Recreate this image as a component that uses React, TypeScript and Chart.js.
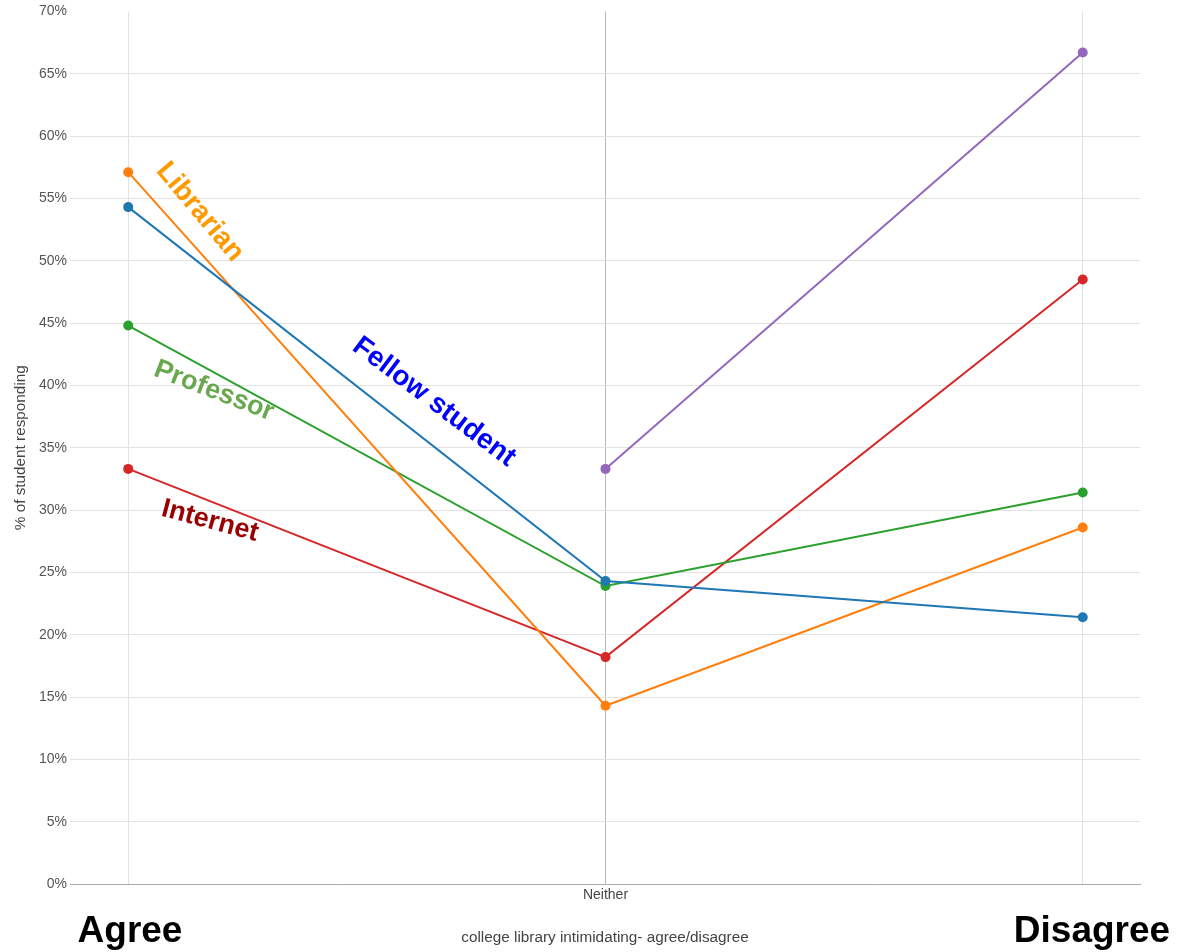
import React, { useEffect, useRef } from "react";
import { Chart, registerables } from "chart.js";

Chart.register(...registerables);

const categories = ["Agree", "Neither", "Disagree"];
const categoryPositions = [0, 1, 2];
const fellowStudent = [54.3, 24.3, 21.4];
const librarian = [57.1, 14.3, 28.6];
const professor = [44.8, 23.9, 31.4];
const internet = [33.3, 18.2, 48.5];
const other = [null, 33.3, 66.7];
const yTicks = [0, 5, 10, 15, 20, 25, 30, 35, 40, 45, 50, 55, 60, 65, 70];

const seriesDefs = [
  { label: "Fellow student", values: fellowStudent, color: "#1f77b4" },
  { label: "Librarian", values: librarian, color: "#ff7f0e" },
  { label: "Professor", values: professor, color: "#2ca02c" },
  { label: "Internet", values: internet, color: "#d62728" },
  { label: "Other", values: other, color: "#9467bd" },
];

const annotations = [
  { text: "Librarian", x: 200, y: 212, angle: 50, size: 28, color: "#FF9900" },
  { text: "Fellow student", x: 434, y: 402, angle: 37, size: 28, color: "#0000FF" },
  { text: "Professor", x: 214, y: 391, angle: 21, size: 27, color: "#6AA84F" },
  { text: "Internet", x: 210, y: 521, angle: 15, size: 27, color: "#990000" },
  { text: "Agree", x: 130, y: 932, angle: 0, size: 37, color: "#000000" },
  { text: "Disagree", x: 1092, y: 932, angle: 0, size: 37, color: "#000000" },
];

const FONT = "'Liberation Sans', Arial, Helvetica, sans-serif";

const annotationPlugin = {
  id: "textAnnotations",
  afterDraw(chart: any) {
    const ctx = chart.ctx;
    annotations.forEach((a) => {
      ctx.save();
      ctx.translate(a.x, a.y);
      ctx.rotate((a.angle * Math.PI) / 180);
      ctx.font = `bold ${a.size}px ${FONT}`;
      ctx.fillStyle = a.color;
      ctx.textAlign = "center";
      ctx.textBaseline = "middle";
      ctx.fillText(a.text, 0, 0);
      ctx.restore();
    });
  },
};

export default function App() {
  const canvasRef = useRef<HTMLCanvasElement | null>(null);

  useEffect(() => {
    const canvas = canvasRef.current;
    if (!canvas) return;
    const chart = new Chart(canvas, {
      type: "line",
      data: {
        datasets: seriesDefs.map((s) => ({
          label: s.label,
          data: categoryPositions.map((x, i) => ({ x, y: s.values[i] as any })),
          borderColor: s.color,
          backgroundColor: s.color,
          borderWidth: 2,
          pointRadius: 5,
          pointBorderWidth: 0,
          pointBackgroundColor: s.color,
          spanGaps: false,
          tension: 0,
        })),
      },
      options: {
        animation: false,
        responsive: false,
        maintainAspectRatio: false,
        layout: { padding: { left: 0, right: 45, top: 11, bottom: 0 } },
        plugins: {
          legend: { display: false },
          tooltip: { enabled: false },
        },
        scales: {
          x: {
            type: "linear",
            min: -0.122,
            max: 2.12,
            afterBuildTicks: (s: any) => {
              s.ticks = categoryPositions.map((v) => ({ value: v }));
            },
            afterFit: (s: any) => {
              s.height = 68;
            },
            ticks: {
              autoSkip: false,
              maxRotation: 0,
              padding: 3,
              color: "#444",
              font: { size: 14, family: FONT },
              callback: (v: any) => (v === 1 ? categories[1] : ""),
            },
            grid: {
              drawTicks: false,
              color: (c: any) => (c.tick && c.tick.value === 1 ? "#b8b8b8" : "#e2e2e2"),
              lineWidth: 1,
            },
            border: { display: true, color: "#aaaaaa", width: 1 },
            title: {
              display: true,
              text: "college library intimidating- agree/disagree",
              color: "#444",
              font: { size: 15.3, family: FONT },
              padding: { top: 4, bottom: 5 },
            },
          },
          y: {
            type: "linear",
            min: 0,
            max: 70,
            afterBuildTicks: (s: any) => {
              s.ticks = yTicks.map((v) => ({ value: v }));
            },
            afterFit: (s: any) => {
              s.width = 70;
            },
            ticks: {
              padding: 3,
              color: "#555",
              font: { size: 14, family: FONT },
              callback: (v: any) => `${v}%`,
            },
            grid: {
              drawTicks: false,
              color: (c: any) =>
                c.tick && (c.tick.value === 70 || c.tick.value === 0) ? "rgba(0,0,0,0)" : "#e2e2e2",
              lineWidth: 1,
            },
            border: { display: false },
            title: {
              display: true,
              text: "% of student responding",
              color: "#444",
              font: { size: 15.3, family: FONT },
              padding: { top: 12, bottom: 4 },
            },
          },
        },
      },
      plugins: [annotationPlugin],
    });
    return () => chart.destroy();
  }, []);

  return (
    <div style={{ position: "absolute", left: 0, top: 0, width: 1185, height: 952, background: "#fff" }}>
      <canvas ref={canvasRef} width={1185} height={952} style={{ display: "block" }} />
    </div>
  );
}
